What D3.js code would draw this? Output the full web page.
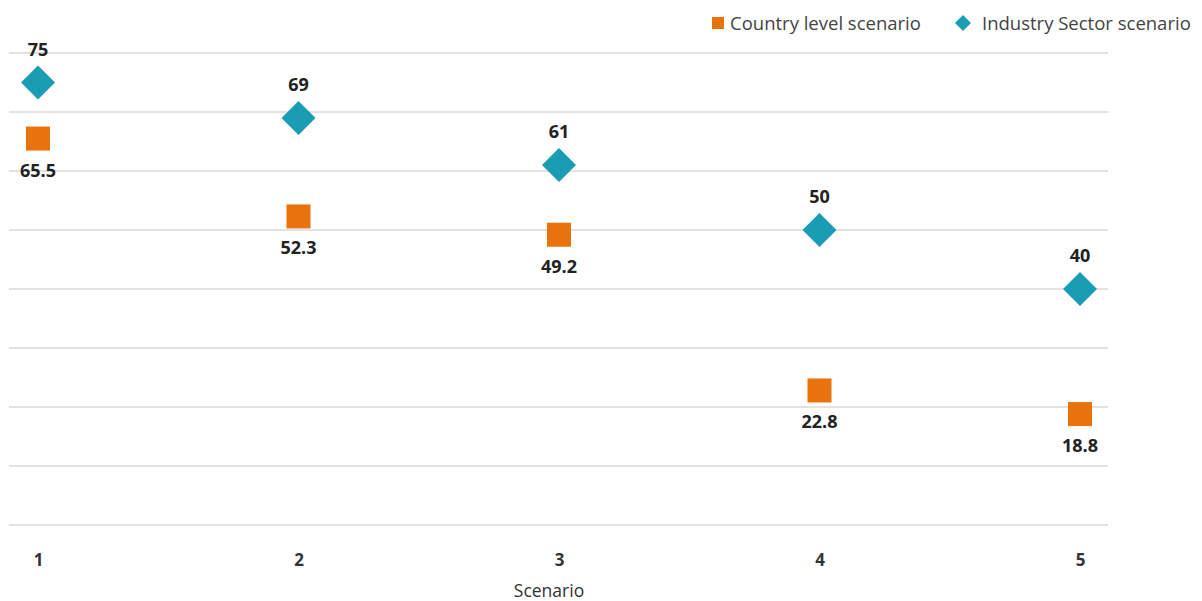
<!DOCTYPE html>
<html>
<head>
<meta charset="utf-8">
<script src="https://cdn.jsdelivr.net/npm/d3@7"></script>
<style>
  html, body { margin: 0; padding: 0; background: #fff; }
  svg { display: block; font-family: "Open Sans", "Noto Sans", sans-serif; }
</style>
</head>
<body>
<svg id="chart" width="1202" height="601"></svg>
<script>
// Scenario numbers along the x axis
const scenarios = [1, 2, 3, 4, 5];
// Values per scenario for each series
const countryLevel = [65.5, 52.3, 49.2, 22.8, 18.8];
const industrySector = [75, 69, 61, 50, 40];
// Horizontal gridline values
const gridTicks = [0, 10, 20, 30, 40, 50, 60, 70, 80];

const seriesNames = ["Country level scenario", "Industry Sector scenario"];
const colors = { country: "#E8720C", industry: "#1A9DB3" };

const svg = d3.select("#chart");

const x = d3.scaleLinear().domain([1, 5]).range([38, 1080]);
const y = d3.scaleLinear().domain([0, 80]).range([525, 53]);

// Gridlines
svg.append("g")
  .selectAll("line")
  .data(gridTicks)
  .join("line")
  .attr("x1", 9)
  .attr("x2", 1108)
  .attr("y1", d => y(d))
  .attr("y2", d => y(d))
  .attr("stroke", "#d9d9d9")
  .attr("stroke-width", 1.6);

// X axis tick labels
const xAxis = d3.axisBottom(x).tickValues(scenarios).tickSize(0).tickPadding(0).tickFormat(d3.format("d"));
const gx = svg.append("g").attr("transform", "translate(0,554)").call(xAxis);
gx.attr("font-size", null).attr("font-family", null);
gx.select(".domain").remove();
gx.selectAll("text")
  .style("font-size", "17px")
  .style("font-weight", "bold")
  .attr("fill", "#333");

// Axis title
svg.append("text")
  .attr("x", 549)
  .attr("y", 597)
  .attr("text-anchor", "middle")
  .style("font-size", "17.5px")
  .attr("fill", "#333")
  .text("Scenario");

const countryPts = scenarios.map((s, i) => ({ s, v: countryLevel[i] }));
const industryPts = scenarios.map((s, i) => ({ s, v: industrySector[i] }));

const sq = 24;

// Country level squares
svg.append("g")
  .selectAll("rect")
  .data(countryPts)
  .join("rect")
  .attr("x", d => x(d.s) - sq / 2)
  .attr("y", d => y(d.v) - sq / 2)
  .attr("width", sq)
  .attr("height", sq)
  .attr("fill", colors.country);

// Industry sector diamonds
svg.append("g")
  .selectAll("path")
  .data(industryPts)
  .join("path")
  .attr("d", d => {
    const cx = x(d.s), cy = y(d.v), r = 17;
    return `M${cx},${cy - r}L${cx + r},${cy}L${cx},${cy + r}L${cx - r},${cy}Z`;
  })
  .attr("fill", colors.industry);

// Value labels
svg.append("g")
  .selectAll("text")
  .data(countryPts)
  .join("text")
  .attr("x", d => x(d.s))
  .attr("y", d => y(d.v) + 38)
  .attr("text-anchor", "middle")
  .style("font-size", "18px")
  .style("font-weight", "bold")
  .attr("fill", "#222")
  .text(d => d.v);

svg.append("g")
  .selectAll("text")
  .data(industryPts)
  .join("text")
  .attr("x", d => x(d.s))
  .attr("y", d => y(d.v) - 27)
  .attr("text-anchor", "middle")
  .style("font-size", "18px")
  .style("font-weight", "bold")
  .attr("fill", "#222")
  .text(d => d.v);

// Legend
const legend = svg.append("g");
legend.append("rect")
  .attr("x", 712).attr("y", 17).attr("width", 12).attr("height", 12)
  .attr("fill", colors.country);
legend.append("text")
  .attr("x", 730).attr("y", 30)
  .style("font-size", "18.5px").attr("fill", "#444")
  .text(seriesNames[0]);
legend.append("path")
  .attr("d", "M963,15L971,23L963,31L955,23Z")
  .attr("fill", colors.industry);
legend.append("text")
  .attr("x", 982).attr("y", 30)
  .style("font-size", "18.5px").attr("fill", "#444")
  .text(seriesNames[1]);
</script>
</body>
</html>
